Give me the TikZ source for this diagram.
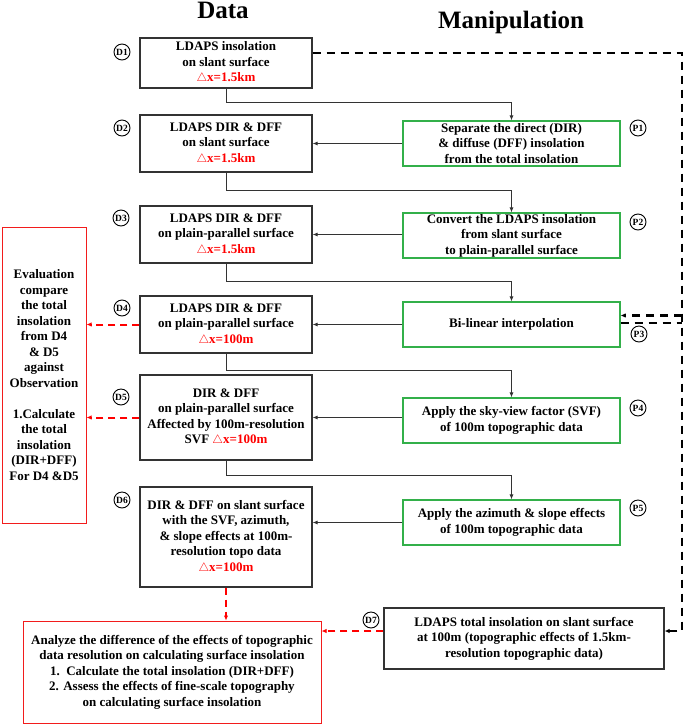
\documentclass[tikz,border=0pt]{standalone}
\usepackage{fontspec}
\setmainfont{Liberation Serif}
\usetikzlibrary{arrows.meta,positioning}

\definecolor{boxgreen}{HTML}{33B04A}
\definecolor{boxred}{HTML}{F21C1C}
\definecolor{linegray}{HTML}{333333}
\newcommand{\dx}[1]{\textcolor{red}{$\triangle$x=#1}}

\begin{document}
\begin{tikzpicture}[
x=1pt, y=-1pt,
font=\fontsize{13}{15.5}\selectfont\bfseries,
databox/.style={draw=linegray, line width=1.2pt, align=center, inner sep=0pt, minimum width=172pt},
procbox/.style={draw=boxgreen, line width=1.1pt, align=center, inner sep=0pt, minimum width=217pt, minimum height=45pt},
resultbox/.style={draw=boxred, line width=1pt, align=center, inner sep=0pt},
idtag/.style={draw, circle, line width=0.9pt, inner sep=0pt, minimum size=16pt, font=\fontsize{9.5}{9.5}\selectfont\bfseries},
title/.style={anchor=base, font=\fontsize{25}{30}\selectfont\bfseries},
arrow/.style={-{Latex[length=5pt,width=4pt]}, line width=0.8pt, draw=linegray},
railline/.style={draw=black, line width=2.2pt, dash pattern=on 8pt off 6pt, -{Latex[length=5pt,width=4.5pt]}},
redline/.style={draw=red, line width=2pt, dash pattern=on 7pt off 5pt, -{Latex[length=5pt,width=4.5pt]}}
]
\useasboundingbox (0,0) rectangle (685,724);

% column titles
\node[title] (datatitle) at (223,18.5) {Data};
\node[title] (maniptitle) at (511,28.5) {Manipulation};

% data column
\node[databox, minimum height=50pt] (D1) at (226,63) {LDAPS insolation\\on slant surface\\\dx{1.5km}};
\node[databox, minimum height=57pt] (D2) at (226,143.5) {LDAPS DIR \& DFF\\on slant surface\\\dx{1.5km}};
\node[databox, minimum height=57pt] (D3) at (226,234.5) {LDAPS DIR \& DFF\\on plain-parallel surface\\\dx{1.5km}};
\node[databox, minimum height=57pt] (D4) at (226,324.5) {LDAPS DIR \& DFF\\on plain-parallel surface\\\dx{100m}};
\node[databox, minimum height=85pt] (D5) at (226,417.5) {DIR \& DFF\\on plain-parallel surface\\Affected by 100m-resolution\\SVF \dx{100m}};
\node[databox, minimum height=100pt] (D6) at (226,537) {DIR \& DFF on slant surface\\with the SVF, azimuth,\\\& slope effects at 100m-\\resolution topo data\\\dx{100m}};
\node[databox, minimum width=280pt, minimum height=61pt] (D7) at (524,638.5) {LDAPS total insolation on slant surface\\at 100m (topographic effects of 1.5km-\\resolution topographic data)};

% manipulation column
\node[procbox] (P1) at (511.5,143.5) {Separate the direct (DIR)\\\& diffuse (DFF) insolation\\from the total insolation};
\node[procbox] (P2) at (511.5,235.5) {Convert the LDAPS insolation\\from slant surface\\to plain-parallel surface};
\node[procbox] (P3) at (511.5,324.5) {Bi-linear interpolation};
\node[procbox] (P4) at (511.5,420.5) {Apply the sky-view factor (SVF)\\of 100m topographic data};
\node[procbox] (P5) at (511.5,522.5) {Apply the azimuth \& slope effects\\of 100m topographic data};

% results
\node[resultbox, minimum width=84pt, minimum height=296pt] (eval) at (44,375) {Evaluation\\compare\\the total\\insolation\\from D4\\\& D5\\against\\Observation\\[15.5pt]1.Calculate\\the total\\insolation\\(DIR+DFF)\\For D4 \&D5};
\node[resultbox, minimum width=298pt, minimum height=102pt] (analysis) at (172,672) {Analyze the difference of the effects of topographic\\data resolution on calculating surface insolation\\1.\ \ Calculate the total insolation (DIR+DFF)\\2. Assess the effects of fine-scale topography\\on calculating surface insolation};

% tags
\node[idtag] (tD1) at (122,52) {D1};
\node[idtag] (tD2) at (122,128) {D2};
\node[idtag] (tD3) at (121,218) {D3};
\node[idtag] (tD4) at (122,308) {D4};
\node[idtag] (tD5) at (121,397) {D5};
\node[idtag] (tD6) at (122,500) {D6};
\node[idtag] (tD7) at (371,620) {D7};
\node[idtag] (tP1) at (638,128) {P1};
\node[idtag] (tP2) at (638,222) {P2};
\node[idtag] (tP3) at (639,334) {P3};
\node[idtag] (tP4) at (638,408) {P4};
\node[idtag] (tP5) at (638,508) {P5};

% flow
\draw[arrow] (D1.south) -- ++(0,14) -| (P1.north);
\draw[arrow] (D2.east -| P1.west) -- (D2.east);
\draw[arrow] (D2.south) -- ++(0,18) -| (P2.north);
\draw[arrow] (D3.east -| P2.west) -- (D3.east);
\draw[arrow] (D3.south) -- ++(0,18) -| (P3.north);
\draw[arrow] (D4.east -| P3.west) -- (D4.east);
\draw[arrow] (D4.south) -- ++(0,17) -| (P4.north);
\draw[arrow] (D5.east -| P4.west) -- (D5.east);
\draw[arrow] (D5.south) -- ++(0,15) -| (P5.north);
\draw[arrow] (P5.west) -- (P5.west -| D6.east);

% 1.5km branch
\coordinate (rail) at (682,631);
\coordinate (d1out) at ([yshift=10pt]D1.east);
\coordinate (p3in) at ([yshift=9pt]P3.east);
\coordinate (p3out) at ([yshift=1.5pt]P3.east);
\draw[railline] (d1out) -| (rail) -- (rail -| D7.east);
\draw[railline] (p3in -| rail) -- (p3in);
\draw[railline, -] (p3out) -- (p3out -| rail);

% evaluation links
\draw[redline] (D4.west) -- (D4.west -| eval.east);
\draw[redline] (D5.west) -- (D5.west -| eval.east);
\draw[redline] (D6.south) -- (D6.south |- analysis.north);
\draw[redline] (D7.west |- rail) -- (analysis.east |- rail);
\end{tikzpicture}
\end{document}
